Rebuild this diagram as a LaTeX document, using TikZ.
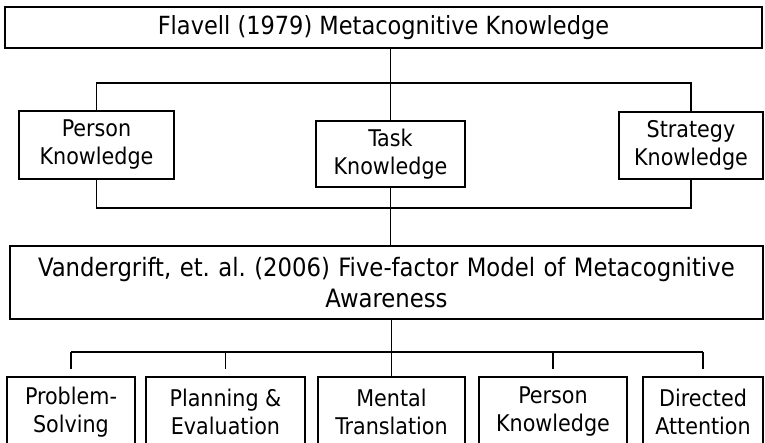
\documentclass[tikz,border=0pt]{standalone}
\usepackage{fontspec}
\setmainfont{DejaVu Sans Condensed}
\frenchspacing
\usetikzlibrary{positioning}
\tikzset{
  titolo/.style = {rectangle, draw, line width=2.4pt, align=center, inner sep=0pt},
  voce/.style   = {rectangle, draw, line width=2.4pt, align=center, inner sep=0pt, font=\fontsize{23}{28}\selectfont},
  link/.style   = {line width=1.6pt},
  corto/.style  = {link, shorten <=7pt}
}

\begin{document}
\begin{tikzpicture}[x=1pt,y=-1pt]
  \useasboundingbox (0,0) rectangle (765,443);

  \node[titolo, minimum width=757pt, minimum height=41pt, font=\fontsize{25}{30}\selectfont] (F) at (383.5,27.5) {Flavell (1979) Metacognitive Knowledge};

  \node[voce, minimum width=155pt, minimum height=68pt] (P) at (96.5,145)  {Person\\Knowledge};
  \node[voce, minimum width=149pt, minimum height=66pt] (T) at (390.5,154) {Task\\Knowledge};
  \node[voce, minimum width=144pt, minimum height=67pt] (S) at (691,145.5) {Strategy\\Knowledge};

  \node[titolo, minimum width=753pt, minimum height=73pt, text width=720pt, font=\fontsize{25.3}{31}\selectfont] (V) at (386.5,282.5)
    {Vandergrift, et. al. (2006) Five-factor Model of Metacognitive\\Awareness};

  \node[voce, minimum width=128pt, minimum height=70pt] (ps) at (71,412)    {Problem-\\Solving};
  \node[voce, minimum width=159pt, minimum height=70pt] (pe) at (225.5,412) {Planning \&\\Evaluation};
  \node[voce, minimum width=147pt, minimum height=70pt] (mt) at (391.5,412) {Mental\\Translation};
  \node[voce, minimum width=148pt, minimum height=70pt] (pk) at (553,412)   {Person\\Knowledge};
  \node[voce, minimum width=120pt, minimum height=70pt] (da) at (703,412)   {Directed\\Attention};

  % bars
  \coordinate (b1) at (0,83);
  \coordinate (b2) at (0,208);
  \coordinate (b3) at (0,352);

  \draw[link] (T.north |- F.south) -- (T.north);
  \draw[link] (P.north) -- (P.north |- b1) -- (S.north |- b1) -- (S.north);
  \draw[link] (P.south) -- (P.south |- b2) -- (S.south |- b2) -- (S.south);
  \draw[link] (T.south) -- (T.south |- V.north);

  \draw[link] (mt.north |- V.south) -- (mt.north);
  \draw[link] (ps.north |- b3) -- (da.north |- b3);
  \draw[corto] (ps.north) -- (ps.north |- b3);
  \draw[corto] (pe.north) -- (pe.north |- b3);
  \draw[corto] (pk.north) -- (pk.north |- b3);
  \draw[corto] (da.north) -- (da.north |- b3);
\end{tikzpicture}
\end{document}
